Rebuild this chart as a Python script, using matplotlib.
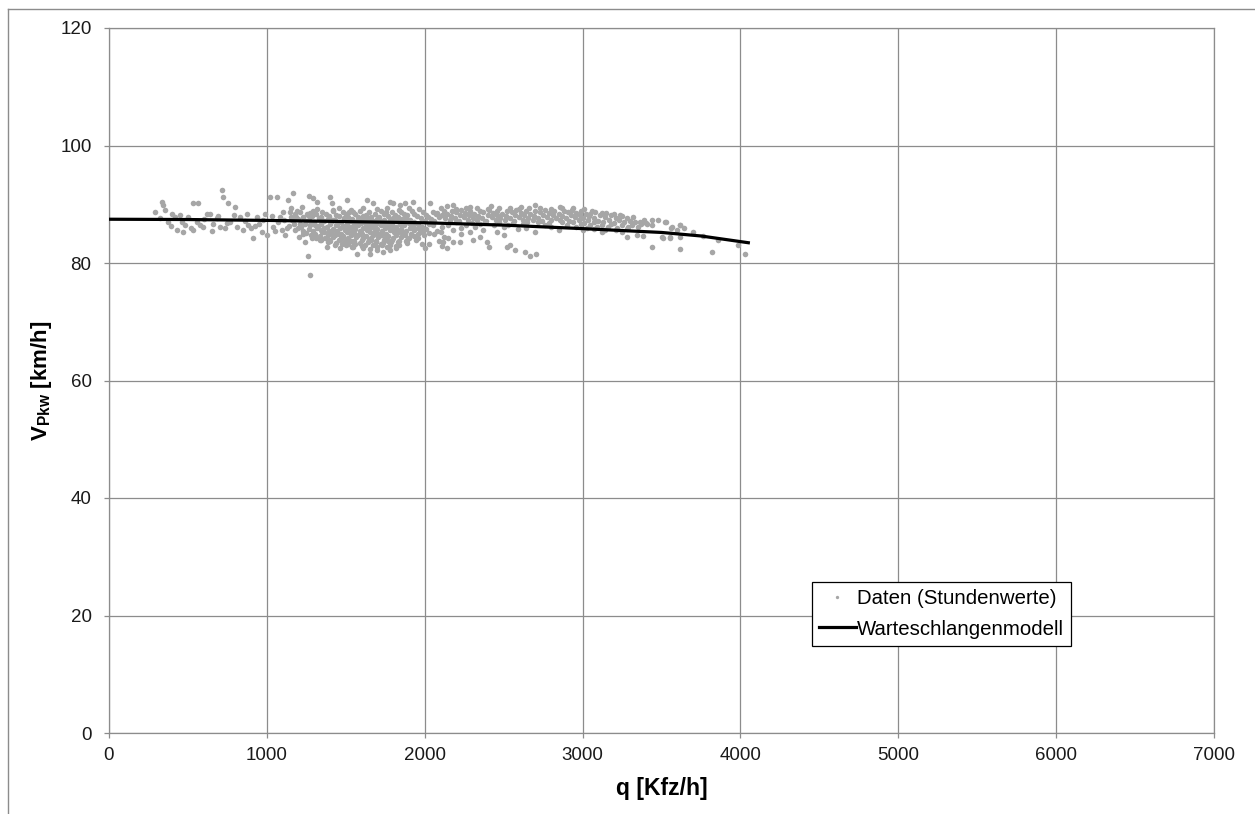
"""Geschwindigkeit Pkw vs. Verkehrsstaerke - Stundenwerte und Warteschlangenmodell."""
import matplotlib
matplotlib.use("Agg")
import matplotlib.pyplot as plt
from matplotlib.lines import Line2D

plt.rcParams["font.family"] = ["Liberation Sans", "DejaVu Sans"]
plt.rcParams["mathtext.fontset"] = "custom"
plt.rcParams["mathtext.rm"] = "Liberation Sans"
plt.rcParams["mathtext.bf"] = "Liberation Sans:bold"

X_TICKS = [0, 1000, 2000, 3000, 4000, 5000, 6000, 7000]
Y_TICKS = [0, 20, 40, 60, 80, 100, 120]

# Warteschlangenmodell
modell_q = [0, 500, 1000, 1500, 2000, 2500, 3000, 3500, 3750, 4050]
modell_v = [87.45, 87.4, 87.25, 87.05, 86.85, 86.45, 85.85, 85.2, 84.6, 83.45]

# Stundenwerte, geschaetzt aus der Punktwolke (q [Kfz/h], v [km/h])
daten_schwach = [
    (291, 88.6), (334, 90.4), (344, 89.9), (355, 89.0), (376, 86.9), (397, 88.4), (418, 87.9),
    (429, 85.7), (450, 88.2), (471, 85.3), (481, 86.5), (503, 87.9), (534, 90.2), (566, 90.2),
    (534, 85.6), (555, 87.0), (577, 86.5), (598, 86.2), (619, 88.4), (640, 88.4), (661, 86.7),
    (682, 87.6), (714, 92.4), (724, 91.3), (756, 90.2), (703, 86.1), (735, 85.9), (767, 87.0),
    (798, 89.5), (809, 86.2), (830, 87.9), (851, 85.7), (872, 88.4), (883, 86.5), (914, 84.2),
    (925, 86.3), (935, 87.9), (967, 85.3), (978, 87.3), (999, 84.8), (320, 87.6), (390, 86.3),
    (460, 87.0), (520, 86.0), (600, 87.5), (650, 85.4), (690, 88.0), (745, 86.8), (790, 88.1),
    (860, 87.2), (900, 85.9), (950, 86.6), (990, 88.3),
    (1020, 91.2), (1041, 86.2), (1062, 91.2), (1083, 87.9), (1094, 85.6), (1115, 84.8),
    (1136, 90.7), (1147, 88.7), (1168, 91.9), (1157, 87.3), (1178, 85.6), (1210, 86.7),
    (1231, 85.0), (1252, 88.4), (1263, 81.2), (1273, 77.9), (1269, 91.4), (1294, 91.0),
    (1316, 90.4), (1284, 84.2), (1030, 88.0), (1050, 85.4), (1070, 86.9), (1100, 88.6),
    (1125, 86.0), (1150, 89.3), (1190, 88.9), (1205, 84.4), (1225, 89.6), (1240, 83.6),
    (1110, 87.4), (1185, 87.8),
]

daten_kern = [
    (1320, 89.2), (1455, 89.3), (1530, 89.1), (1610, 89.3), (1700, 89.2), (1760, 89.4),
    (1835, 89.1), (1900, 89.3), (1965, 89.2),
    (1210, 88.7), (1290, 88.8), (1350, 88.6), (1420, 88.8), (1480, 88.7), (1545, 88.6),
    (1590, 88.8), (1650, 88.7), (1720, 88.8), (1790, 88.6), (1850, 88.7), (1920, 88.8),
    (1990, 88.6), (2050, 88.7),
    (1180, 88.3), (1260, 88.2), (1310, 88.4), (1375, 88.3), (1440, 88.2), (1500, 88.4),
    (1560, 88.3), (1625, 88.2), (1685, 88.4), (1745, 88.3), (1810, 88.2), (1870, 88.4),
    (1935, 88.3), (2005, 88.2), (2070, 88.3),
    (1150, 87.9), (1230, 87.8), (1285, 88.0), (1340, 87.9), (1395, 87.8), (1460, 88.0),
    (1515, 87.9), (1575, 87.8), (1610, 88.0), (1660, 87.9), (1710, 87.8), (1770, 88.0),
    (1830, 87.9), (1880, 87.8), (1950, 88.0), (2020, 87.9), (2090, 87.8),
    (1195, 87.5), (1270, 87.4), (1330, 87.6), (1390, 87.5), (1430, 87.4), (1490, 87.6),
    (1540, 87.5), (1600, 87.4), (1645, 87.6), (1695, 87.5), (1740, 87.4), (1800, 87.6),
    (1855, 87.5), (1905, 87.4), (1975, 87.6), (2040, 87.5),
    (1250, 87.1), (1300, 87.0), (1360, 87.2), (1410, 87.1), (1470, 87.0), (1525, 87.2),
    (1570, 87.1), (1620, 87.0), (1670, 87.2), (1725, 87.1), (1775, 87.0), (1825, 87.2),
    (1880, 87.1), (1930, 87.0), (2000, 87.2), (2060, 87.1),
    (1170, 86.7), (1240, 86.6), (1290, 86.8), (1345, 86.7), (1400, 86.6), (1450, 86.8),
    (1505, 86.7), (1555, 86.6), (1595, 86.8), (1640, 86.7), (1690, 86.6), (1745, 86.8),
    (1790, 86.7), (1845, 86.6), (1900, 86.8), (1960, 86.7), (2025, 86.6),
    (1140, 86.3), (1215, 86.2), (1275, 86.4), (1325, 86.3), (1380, 86.2), (1435, 86.4),
    (1480, 86.3), (1530, 86.2), (1580, 86.4), (1625, 86.3), (1675, 86.2), (1720, 86.4),
    (1770, 86.3), (1815, 86.2), (1870, 86.4), (1925, 86.3), (1985, 86.2), (2050, 86.4),
    (1200, 85.9), (1265, 85.8), (1315, 86.0), (1365, 85.9), (1420, 85.8), (1465, 86.0),
    (1515, 85.9), (1560, 85.8), (1610, 86.0), (1650, 85.9), (1700, 85.8), (1750, 86.0),
    (1800, 85.9), (1850, 85.8), (1905, 86.0), (1955, 85.9), (2010, 85.8),
    (1230, 85.5), (1290, 85.4), (1340, 85.6), (1395, 85.5), (1445, 85.4), (1495, 85.6),
    (1540, 85.5), (1590, 85.4), (1635, 85.6), (1685, 85.5), (1730, 85.4), (1780, 85.6),
    (1825, 85.5), (1880, 85.4), (1935, 85.6), (1990, 85.5),
    (1250, 85.1), (1305, 85.0), (1360, 85.2), (1410, 85.1), (1460, 85.0), (1510, 85.2),
    (1555, 85.1), (1605, 85.0), (1655, 85.2), (1700, 85.1), (1755, 85.0), (1805, 85.2),
    (1860, 85.1), (1910, 85.0), (1970, 85.2), (2030, 85.1),
    (1280, 84.7), (1335, 84.6), (1385, 84.8), (1430, 84.7), (1480, 84.6), (1530, 84.8),
    (1580, 84.7), (1625, 84.6), (1670, 84.8), (1720, 84.7), (1770, 84.6), (1820, 84.8),
    (1875, 84.7), (1930, 84.6), (1995, 84.8),
    (1310, 84.3), (1370, 84.2), (1420, 84.4), (1470, 84.3), (1515, 84.2), (1565, 84.4),
    (1610, 84.3), (1660, 84.2), (1705, 84.4), (1750, 84.3), (1800, 84.2), (1850, 84.4),
    (1900, 84.3), (1960, 84.2),
    (1340, 83.9), (1400, 83.8), (1455, 84.0), (1500, 83.9), (1550, 83.8), (1600, 84.0),
    (1645, 83.9), (1690, 83.8), (1740, 84.0), (1790, 83.9), (1840, 83.8), (1890, 84.0),
    (1945, 83.9),
    (1385, 83.5), (1440, 83.4), (1490, 83.6), (1545, 83.5), (1590, 83.4), (1640, 83.6),
    (1690, 83.5), (1735, 83.4), (1785, 83.6), (1830, 83.5), (1885, 83.4),
    (1430, 83.1), (1500, 83.0), (1560, 83.2), (1620, 83.1), (1675, 83.0), (1725, 83.2),
    (1780, 83.1), (1835, 83.0),
    (1463, 82.5), (1540, 82.8), (1610, 82.6), (1700, 82.8), (1760, 82.7), (1820, 82.6),
    (1569, 81.6), (1653, 81.6), (1738, 81.9), (1780, 82.2), (1696, 82.2), (1548, 82.8),
    (1400, 91.3), (1411, 90.2), (1421, 89.0), (1506, 90.7), (1632, 90.7), (1675, 90.2),
    (1780, 90.4), (1801, 90.2), (1844, 89.9), (1875, 90.2), (1928, 90.3), (2034, 90.2),
    (1379, 82.8), (1337, 83.9), (1516, 83.3),
    # Zwischenwerte im dichten Kern
    (1275, 88.5), (1395, 88.0), (1520, 88.6), (1635, 87.7), (1755, 88.6), (1890, 88.1),
    (1305, 86.5), (1420, 87.3), (1545, 86.0), (1660, 86.5), (1780, 87.3), (1910, 86.1),
    (1350, 85.3), (1470, 84.9), (1595, 85.3), (1715, 84.9), (1840, 85.3), (1960, 85.0),
    (1395, 84.0), (1530, 83.7), (1660, 84.0), (1770, 83.7), (1880, 83.8), (1475, 83.3),
    (1600, 82.9), (1730, 83.0), (1815, 82.9), (1655, 82.4),
]

daten_stark = [
    (2140, 89.7), (2180, 89.8), (2290, 89.6), (2420, 89.7), (2610, 89.6), (2700, 89.8), (2860, 89.6),
    (2100, 89.3), (2200, 89.2), (2260, 89.4), (2330, 89.3), (2400, 89.2), (2470, 89.4),
    (2540, 89.3), (2600, 89.2), (2660, 89.4), (2730, 89.3), (2800, 89.2), (2870, 89.4),
    (2940, 89.3), (3010, 89.2),
    (2120, 88.9), (2170, 88.8), (2230, 89.0), (2290, 88.9), (2350, 88.8), (2410, 89.0),
    (2460, 88.9), (2520, 88.8), (2580, 89.0), (2640, 88.9), (2700, 88.8), (2760, 89.0),
    (2820, 88.9), (2880, 88.8), (2930, 89.0), (2990, 88.9), (3060, 88.8),
    (2080, 88.5), (2140, 88.4), (2200, 88.6), (2255, 88.5), (2310, 88.4), (2370, 88.6),
    (2430, 88.5), (2490, 88.4), (2550, 88.6), (2610, 88.5), (2670, 88.4), (2730, 88.6),
    (2790, 88.5), (2850, 88.4), (2910, 88.6), (2960, 88.5), (3020, 88.4), (3080, 88.6),
    (3150, 88.5),
    (2110, 88.1), (2165, 88.0), (2225, 88.2), (2280, 88.1), (2340, 88.0), (2400, 88.2),
    (2455, 88.1), (2515, 88.0), (2575, 88.2), (2630, 88.1), (2690, 88.0), (2750, 88.2),
    (2810, 88.1), (2870, 88.0), (2925, 88.2), (2985, 88.1), (3040, 88.0), (3110, 88.2),
    (3180, 88.1), (3250, 88.0),
    (2130, 87.7), (2190, 87.6), (2250, 87.8), (2305, 87.7), (2365, 87.6), (2425, 87.8),
    (2480, 87.7), (2540, 87.6), (2600, 87.8), (2655, 87.7), (2715, 87.6), (2775, 87.8),
    (2830, 87.7), (2895, 87.6), (2950, 87.8), (3005, 87.7), (3070, 87.6), (3140, 87.8),
    (3210, 87.7), (3280, 87.6),
    (2160, 87.3), (2215, 87.2), (2275, 87.4), (2330, 87.3), (2390, 87.2), (2450, 87.4),
    (2510, 87.3), (2565, 87.2), (2625, 87.4), (2685, 87.3), (2740, 87.2), (2800, 87.4),
    (2855, 87.3), (2915, 87.2), (2975, 87.4), (3035, 87.3), (3100, 87.2), (3165, 87.4),
    (3230, 87.3), (3300, 87.2), (3390, 87.4), (3480, 87.3),
    (2200, 86.9), (2300, 86.8), (2380, 87.0), (2470, 86.9), (2560, 86.8), (2650, 87.0),
    (2720, 86.9), (2790, 86.8), (2870, 87.0), (2940, 86.9), (3010, 86.8), (3070, 87.0),
    (3130, 86.9), (3200, 86.8), (3260, 87.0), (3330, 86.9), (3400, 86.8), (3530, 86.9),
    (2150, 86.5), (2260, 86.4), (2350, 86.6), (2440, 86.5), (2530, 86.4), (2620, 86.6),
    (2760, 86.5), (2900, 86.4), (2990, 86.6), (3050, 86.5), (3120, 86.4), (3180, 86.6),
    (3250, 86.5), (3310, 86.4), (3370, 86.6), (3440, 86.5), (3620, 86.4),
    (2110, 86.1), (2230, 86.0), (2320, 86.2), (2500, 86.1), (2640, 86.0), (2800, 86.2),
    (2960, 86.1), (3030, 86.0), (3090, 86.2), (3160, 86.1), (3220, 86.0), (3290, 86.2),
    (3350, 86.1), (3560, 86.0),
    (2180, 85.7), (2370, 85.6), (2590, 85.8), (2850, 85.7), (3000, 85.6), (3070, 85.8),
    (3140, 85.7), (3210, 85.6), (3280, 85.8),
    (2100, 85.3), (2290, 85.2), (2456, 85.2), (2700, 85.3), (3120, 85.2), (3250, 85.3), (3342, 84.8),
    (2060, 84.9), (2230, 84.9), (2500, 84.8), (3385, 84.6),
    (2120, 84.5), (2350, 84.5), (3279, 84.5), (3511, 84.2), (3553, 84.5), (3617, 84.5),
    (2150, 84.2), (2308, 83.9), (3501, 84.4), (3554, 84.2),
    (2118, 83.6), (2139, 82.5), (2181, 83.6), (2224, 83.5), (2393, 83.5), (2410, 82.7),
    (2519, 82.8), (2540, 83.1), (2572, 82.2), (2636, 81.9), (2667, 81.2), (2705, 81.6),
    (2090, 83.8), (2110, 82.9), (2080, 85.4), (2030, 83.3), (2000, 82.6), (1980, 83.2),
    (3047, 88.3), (3120, 88.5), (3200, 88.3), (3237, 88.2), (3322, 87.9), (3364, 87.0),
    (3406, 86.7), (3440, 87.4), (3522, 87.0), (3565, 86.1), (3617, 86.5), (3600, 85.6),
    (3640, 86.0), (3700, 85.2), (3760, 84.6),
    (3437, 82.8), (3617, 82.3), (3817, 81.8), (3860, 83.9), (3986, 83.1), (4029, 81.6),
]

daten = daten_schwach + daten_kern + daten_stark
daten_q = [p[0] for p in daten]
daten_v = [p[1] for p in daten]

GRID = "#8c8c8c"

fig = plt.figure(figsize=(12.55, 8.14), dpi=100)
ax = fig.add_axes([109 / 1255, 1 - 733 / 814, 1105 / 1255, 705 / 814])

ax.plot(daten_q, daten_v, "o", color="#a6a6a6", markersize=4.0, markeredgewidth=0,
        label="Daten (Stundenwerte)", zorder=3)
ax.plot(modell_q, modell_v, color="black", lw=2.3, label="Warteschlangenmodell", zorder=4)

ax.set_xlim(0, 7000)
ax.set_ylim(0, 120)
ax.set_xticks(X_TICKS)
ax.set_yticks(Y_TICKS)
ax.grid(True, color=GRID, lw=0.9)
ax.set_axisbelow(True)
for s in ax.spines.values():
    s.set_color(GRID)
    s.set_linewidth(0.9)
ax.tick_params(axis="both", direction="out", length=3.6, width=0.9, color=GRID,
               labelsize=13.5, labelcolor="#1a1a1a")
ax.tick_params(axis="x", pad=6.5)
ax.tick_params(axis="y", pad=9)

ax.set_xlabel("q [Kfz/h]", fontsize=16.5, fontweight="bold")
ax.set_ylabel(r"V$_{\mathbf{Pkw}}$ [km/h]", fontsize=16, fontweight="bold")
ax.xaxis.set_label_coords(0.5, -0.063)
ax.yaxis.set_label_coords(-0.05, 0.5)

leg = ax.legend(loc="upper left", bbox_to_anchor=(0.636, 0.214), borderaxespad=0,
                fontsize=14.7, frameon=True, fancybox=False, framealpha=1,
                handlelength=1.8, handletextpad=0.05, labelspacing=0.55,
                borderpad=0.35, markerscale=0.6)
leg.get_frame().set_edgecolor("black")
leg.get_frame().set_linewidth(0.9)

# Rahmen des Diagrammbereichs (nur links und oben sichtbar)
fig.add_artist(Line2D([8 / 1255, 1.0], [1 - 9 / 814, 1 - 9 / 814],
                      transform=fig.transFigure, color="#8c8c8c", lw=1.0))
fig.add_artist(Line2D([8 / 1255, 8 / 1255], [0.0, 1 - 9 / 814],
                      transform=fig.transFigure, color="#8c8c8c", lw=1.0))

fig.savefig("out.png", dpi=100)
